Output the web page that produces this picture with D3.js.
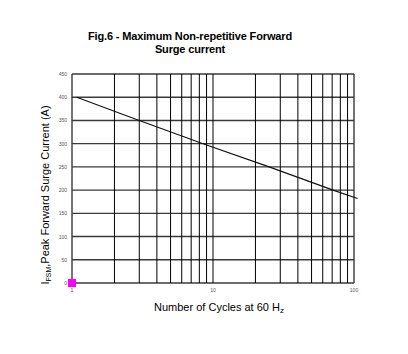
<!DOCTYPE html>
<html>
<head>
<meta charset="utf-8">
<script src="https://cdn.jsdelivr.net/npm/d3@7"></script>
<style>
  body { margin: 0; background: #fff; }
  text { font-family: "Liberation Sans", Arial, sans-serif; }
</style>
</head>
<body>
<svg></svg>
<script>
const width = 408;
const height = 354;

// data
const cycles = [1.08, 3, 8.5, 25, 71, 106];
const surge = [400, 350, 300, 250, 200, 182];
const yTicks = [0, 50, 100, 150, 200, 250, 300, 350, 400, 450];
const xGrid = [1, 2, 3, 4, 5, 6, 7, 8, 9, 10, 20, 30, 40, 50, 60, 70, 80, 90, 100];
const xLabels = [1, 10, 100];

const svg = d3.select('svg')
  .attr('width', width)
  .attr('height', height);

const plotL = 72, plotR = 354, plotT = 74, plotB = 283;

const x = d3.scaleLog().domain([1, 100]).range([plotL, plotR]);
const y = d3.scaleLinear().domain([0, 450]).range([plotB, plotT]);

// title
const title = svg.append('text')
  .attr('text-anchor', 'middle')
  .attr('font-weight', 'bold')
  .attr('font-size', 11)
  .attr('letter-spacing', -0.15);
title.append('tspan').attr('x', 190).attr('y', 40).text('Fig.6 - Maximum Non-repetitive Forward');
title.append('tspan').attr('x', 190).attr('y', 53).text('Surge current');

// grid
svg.append('g')
  .selectAll('line')
  .data(yTicks)
  .enter()
  .append('line')
  .attr('x1', plotL).attr('x2', plotR)
  .attr('y1', d => y(d)).attr('y2', d => y(d))
  .attr('stroke', '#3a3a3a')
  .attr('stroke-width', 1.4);

svg.append('g')
  .selectAll('line')
  .data(xGrid)
  .enter()
  .append('line')
  .attr('x1', d => x(d)).attr('x2', d => x(d))
  .attr('y1', plotT).attr('y2', plotB)
  .attr('stroke', d => (d === 1 || d === 100) ? '#3a3a3a' : '#000')
  .attr('stroke-width', d => (d === 1 || d === 100) ? 1.4 : 1);

// tick labels
svg.append('g')
  .selectAll('text')
  .data(yTicks)
  .enter()
  .append('text')
  .attr('x', plotL - 5)
  .attr('y', d => y(d) + 2)
  .attr('text-anchor', 'end')
  .attr('font-size', 5)
  .attr('fill', '#555')
  .text(d => d);

svg.append('g')
  .selectAll('text')
  .data(xLabels)
  .enter()
  .append('text')
  .attr('x', d => x(d))
  .attr('y', plotB + 9)
  .attr('text-anchor', 'middle')
  .attr('font-size', 5)
  .attr('fill', '#555')
  .text(d => d);

// curve
const pts = cycles.map((c, i) => [c, surge[i]]);
svg.append('path')
  .datum(pts)
  .attr('fill', 'none')
  .attr('stroke', '#111')
  .attr('stroke-width', 1.1)
  .attr('d', d3.line().x(d => x(d[0])).y(d => y(d[1])));

// marker at origin
svg.append('rect')
  .attr('x', x(1) - 4)
  .attr('y', y(0) - 4)
  .attr('width', 8)
  .attr('height', 8)
  .attr('fill', '#ff00ff');

// axis titles
svg.append('text')
  .attr('x', 219)
  .attr('y', 311)
  .attr('text-anchor', 'middle')
  .attr('font-size', 11)
  .html('Number  of Cycles at 60 H<tspan font-size="8" dy="2">z</tspan>');

svg.append('text')
  .attr('transform', 'translate(49,195) rotate(-90)')
  .attr('text-anchor', 'middle')
  .attr('font-size', 11)
  .html('I<tspan font-size="7" dy="2">FSM</tspan><tspan dy="-2">,Peak  Forward Surge Current  (A)</tspan>');
</script>
</body>
</html>
